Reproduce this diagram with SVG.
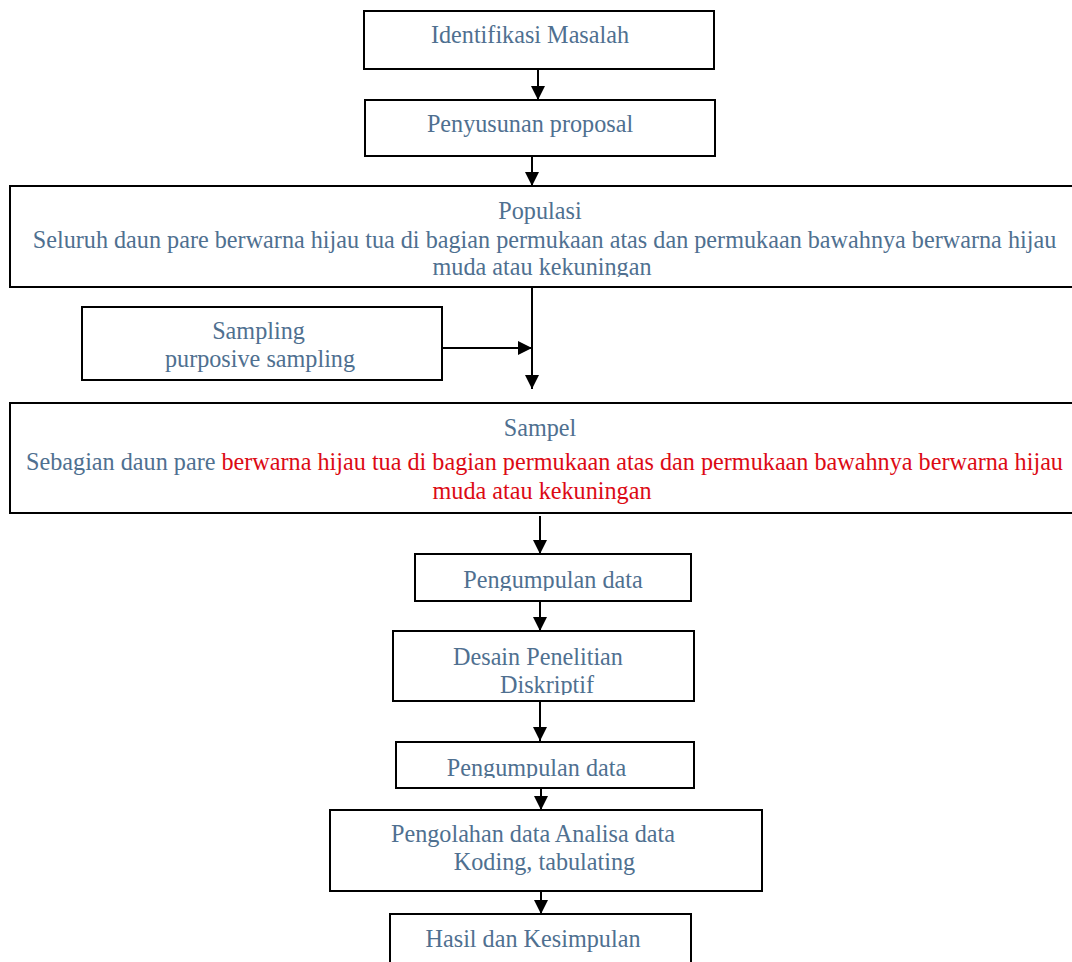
<svg xmlns="http://www.w3.org/2000/svg" width="1072" height="962" viewBox="0 0 1072 962">
<style>
.box{fill:#fff;stroke:#000;stroke-width:2}
.t{font-family:"Liberation Serif","Times New Roman",serif;font-size:24.2px;fill:#4F7090;text-anchor:middle}
.r{fill:#DC0A14}
.c{stroke:#000;stroke-width:2;fill:none;marker-end:url(#ah)}
</style>
<defs>
<marker id="ah" viewBox="0 0 14 14" refX="14" refY="7" markerWidth="14" markerHeight="14" markerUnits="userSpaceOnUse" orient="auto">
<path d="M0,0 L14,7 L0,14 Z" fill="#000"/>
</marker>
<clipPath id="cp3"><rect x="0" y="186" width="1080" height="91"/></clipPath>
<clipPath id="cp4"><rect x="80" y="307" width="365" height="65"/></clipPath>
<clipPath id="cp6"><rect x="415" y="554" width="277" height="37"/></clipPath>
<clipPath id="cp7"><rect x="393" y="631" width="302" height="64"/></clipPath>
<clipPath id="cp8"><rect x="396" y="742" width="299" height="36"/></clipPath>
</defs>
<rect width="1072" height="962" fill="#fff"/>

<g id="connectors">
<line class="c" x1="538" y1="69" x2="538" y2="100"/>
<line class="c" x1="532" y1="156" x2="532" y2="186"/>
<line class="c" x1="532" y1="287" x2="532" y2="389"/>
<line class="c" x1="442" y1="348" x2="532" y2="348"/>
<line class="c" x1="540" y1="516" x2="540" y2="554"/>
<line class="c" x1="540" y1="601" x2="540" y2="631"/>
<line class="c" x1="540" y1="701" x2="540" y2="741"/>
<line class="c" x1="541" y1="788" x2="541" y2="810"/>
<line class="c" x1="541" y1="891" x2="541" y2="914"/>
</g>

<g id="n1">
<rect class="box" x="364" y="11" width="350" height="58"/>
<text class="t" x="530" y="43">Identifikasi Masalah</text>
</g>
<g id="n2">
<rect class="box" x="365" y="100" width="350" height="56"/>
<text class="t" x="530" y="132">Penyusunan proposal</text>
</g>
<g id="n3">
<rect class="box" x="10" y="186" width="1070" height="101"/>
<g clip-path="url(#cp3)">
<text class="t" x="540" y="219">Populasi</text>
<text class="t" x="544.5" y="248">Seluruh daun pare berwarna hijau tua di bagian permukaan atas dan permukaan bawahnya berwarna hijau</text>
<text class="t" x="542" y="275">muda atau kekuningan</text>
</g>
</g>
<g id="n4">
<rect class="box" x="82" y="307" width="360" height="73"/>
<g clip-path="url(#cp4)">
<text class="t" x="258.5" y="339">Sampling</text>
<text class="t" x="260" y="367">purposive sampling</text>
</g>
</g>
<g id="n5">
<rect class="box" x="10" y="403" width="1070" height="110"/>
<text class="t" x="540" y="436">Sampel</text>
<text class="t" x="544.5" y="470">Sebagian daun pare <tspan class="r">berwarna hijau tua di bagian permukaan atas dan permukaan bawahnya berwarna hijau</tspan></text>
<text class="t r" x="542" y="499">muda atau kekuningan</text>
</g>
<g id="n6">
<rect class="box" x="415" y="554" width="276" height="47"/>
<g clip-path="url(#cp6)">
<text class="t" x="553" y="588">Pengumpulan data</text>
</g>
</g>
<g id="n7">
<rect class="box" x="393" y="631" width="301" height="70"/>
<g clip-path="url(#cp7)">
<text class="t" x="538" y="665">Desain Penelitian</text>
<text class="t" x="547" y="693">Diskriptif</text>
</g>
</g>
<g id="n8">
<rect class="box" x="396" y="742" width="298" height="46"/>
<g clip-path="url(#cp8)">
<text class="t" x="536.5" y="776">Pengumpulan data</text>
</g>
</g>
<g id="n9">
<rect class="box" x="330" y="810" width="432" height="81"/>
<text class="t" x="533" y="842">Pengolahan data Analisa data</text>
<text class="t" x="544.5" y="870">Koding, tabulating</text>
</g>
<g id="n10">
<rect class="box" x="390" y="914" width="301" height="60"/>
<text class="t" x="533" y="947">Hasil dan Kesimpulan</text>
</g>
</svg>
